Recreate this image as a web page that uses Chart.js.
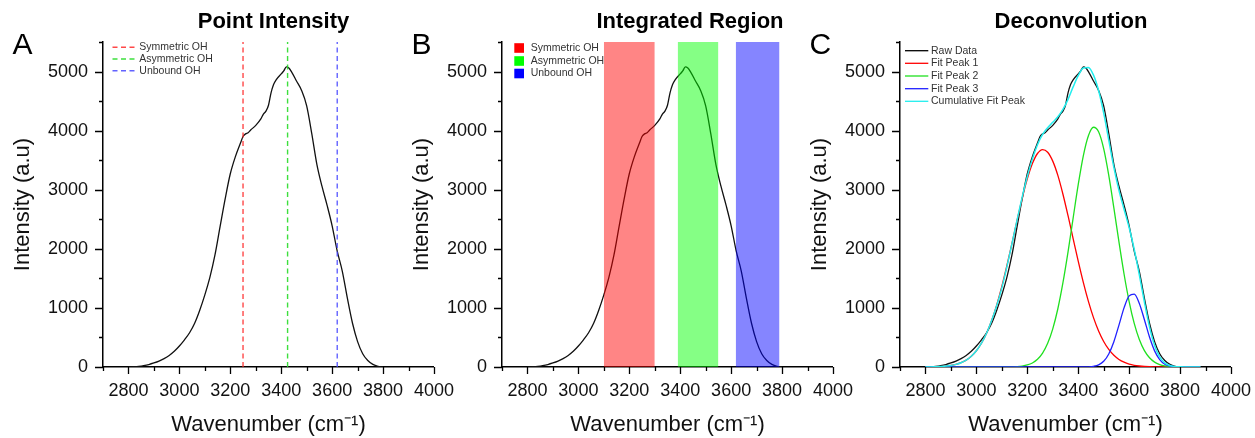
<!DOCTYPE html>
<html><head><meta charset="utf-8">
<script src="https://cdn.jsdelivr.net/npm/chart.js@4.4.1/dist/chart.umd.min.js"></script>
<style>
html,body{margin:0;padding:0;background:#fff;}
body{width:1255px;height:438px;overflow:hidden;position:relative;}
canvas{position:absolute;top:0;}
</style></head><body>
<canvas id="cA" width="460" height="438" style="left:0px"></canvas>
<canvas id="cB" width="460" height="438" style="left:399px"></canvas>
<canvas id="cC" width="460" height="438" style="left:797px"></canvas>
<script>
// ---------- data ----------
const wavenumber = [2800,2820,2840,2860,2880,2900,2920,2940,2960,2980,3000,3020,3040,3060,3080,3100,3120,3140,3160,3180,3200,3220,3240,3250,3260,3270,3280,3300,3320,3330,3340,3350,3360,3370,3380,3400,3410,3420,3430,3440,3460,3480,3500,3520,3540,3560,3580,3600,3620,3640,3660,3680,3700,3720,3740,3760,3780,3800];
const rawIntensity = [0,5,12,24,42,68,100,142,195,265,355,460,580,740,960,1220,1520,1900,2380,2850,3270,3560,3790,3900,3945,3965,4010,4090,4200,4280,4330,4430,4640,4780,4860,4960,5010,5080,5060,5000,4840,4680,4420,3950,3430,3060,2740,2390,1960,1620,1160,740,430,225,110,45,12,0];

const fitWavenumber = [2800,2820,2840,2860,2880,2900,2920,2940,2960,2980,3000,3020,3040,3060,3080,3100,3120,3140,3160,3180,3200,3220,3240,3260,3280,3300,3320,3340,3360,3380,3400,3420,3440,3460,3480,3500,3520,3540,3560,3580,3600,3620,3640,3660,3680,3700,3720,3740,3760,3780,3800,3820,3840,3860,3880];
const fitPeak1 = [1,2,4,8,15,26,44,73,117,182,275,402,571,786,1052,1364,1718,2097,2484,2855,3183,3442,3613,3680,3635,3484,3242,2924,2560,2174,1791,1432,1111,836,610,432,297,198,128,81,49,29,17,9,5,3,2,1,0,0,0,0,0,0,0];
const fitPeak2 = [0,0,0,0,0,0,0,0,0,0,0,0,0,0,0,0,1,3,7,16,34,68,130,235,400,646,986,1426,1948,2521,3085,3573,3914,4057,3980,3695,3242,2693,2117,1574,1108,737,464,277,156,83,42,20,9,4,2,1,0,0,0];
const fitPeak3 = [0,0,0,0,0,0,0,0,0,0,0,0,0,0,0,0,0,0,0,0,0,0,0,0,0,0,0,0,0,0,0,1,3,12,36,97,221,428,709,1000,1203,1232,1075,800,507,273,126,49,17,5,1,0,0,0,0];
const cumulativeFit = [1,2,4,8,15,26,44,73,117,182,275,402,571,786,1040,1340,1700,2090,2490,2875,3225,3520,3760,3935,4050,4140,4235,4360,4530,4740,4930,5060,5070,4940,4680,4300,3840,3380,2990,2670,2360,1990,1560,1100,680,365,172,71,26,9,3,1,0,0,0];

const bandNames = ["Symmetric OH","Asymmetric OH","Unbound OH"];
const pointPositions = [3250,3425,3620];
const regionStart = [3100,3390,3618];
const regionEnd = [3300,3550,3790];
const fitNames = ["Raw Data","Fit Peak 1","Fit Peak 2","Fit Peak 3","Cumulative Fit Peak"];

const xMin = 2700, xMax = 4000, xMajor = 200, xMinor = 100;
const yMin = 0, yMax = 5500, yMajor = 1000, yMinor = 500;

const panelTitles = ["Point Intensity","Integrated Region","Deconvolution"];
const panelLetters = ["A","B","C"];

// ---------- styles ----------
const FONT = "'Liberation Sans', Arial, Helvetica, sans-serif";
const lineColors = ['rgba(255,40,40,0.85)','rgba(40,220,40,0.9)','rgba(70,70,255,0.85)'];
const bandFill = ['rgba(255,0,0,0.48)','rgba(0,255,0,0.48)','rgba(0,0,255,0.48)'];
const bandSwatch = ['#ff0000','#00ff00','#0000ff'];
const fitColors = ['#000000','#ff0000','#1fe01f','#2020ff','#22eeee'];

function pts(xs, ys){ return xs.map((x,i)=>({x:x,y:ys[i]})); }

function decorPlugin(idx, legendDraw){
  return {
    id:'decor'+idx,
    afterDraw(chart){
      const ctx = chart.ctx, xs = chart.scales.x, ys = chart.scales.y, ca = chart.chartArea;
      ctx.save();
      ctx.strokeStyle = '#000'; ctx.lineWidth = 1.3;
      ctx.beginPath();
      for (let v = xMin; v <= xMax + 0.1; v += xMinor) {
        const px = Math.round(xs.getPixelForValue(v)) + 0.5;
        const len = (v % xMajor === 0) ? 7 : 4;
        ctx.moveTo(px, ca.bottom); ctx.lineTo(px, ca.bottom + len);
      }
      for (let v = yMin; v <= yMax + 0.1; v += yMinor) {
        const py = Math.round(ys.getPixelForValue(v)) + 0.5;
        const len = (v % yMajor === 0) ? 8 : 4;
        ctx.moveTo(ca.left, py); ctx.lineTo(ca.left - len, py);
      }
      ctx.stroke();
      ctx.fillStyle = '#000';
      ctx.font = 'bold 22px ' + FONT;
      ctx.textAlign = 'center'; ctx.textBaseline = 'alphabetic';
      const tx = [273.5, 291, 274][idx];
      ctx.fillText(panelTitles[idx], tx, 28);
      ctx.font = '30px ' + FONT;
      ctx.textAlign = 'left';
      ctx.fillText(panelLetters[idx], 12.5, 53.5);
      legendDraw(ctx, ca);
      ctx.restore();
    }
  };
}

function legendA(ctx, ca){
  const rows = [47.3, 59, 70.7];
  ctx.font = '10.5px ' + FONT; ctx.textBaseline = 'middle'; ctx.textAlign = 'left';
  bandNames.forEach((n,i)=>{
    ctx.strokeStyle = lineColors[i]; ctx.lineWidth = 1.4; ctx.setLineDash([5,3.5]);
    ctx.beginPath(); ctx.moveTo(112.5, rows[i]); ctx.lineTo(136.5, rows[i]); ctx.stroke();
    ctx.setLineDash([]);
    ctx.fillStyle = '#333'; ctx.fillText(n, 139.3, rows[i]);
  });
}
function legendB(ctx, ca){
  const rows = [48, 61, 73.5];
  ctx.font = '10.5px ' + FONT; ctx.textBaseline = 'middle'; ctx.textAlign = 'left';
  bandNames.forEach((n,i)=>{
    ctx.fillStyle = bandSwatch[i];
    ctx.fillRect(115.3, rows[i]-4.8, 9.7, 9.6);
    ctx.fillStyle = '#333'; ctx.fillText(n, 131.7, rows[i]);
  });
}
function legendC(ctx, ca){
  const rows = [50.7, 63.3, 76, 88.7, 101.3];
  ctx.font = '10.5px ' + FONT; ctx.textBaseline = 'middle'; ctx.textAlign = 'left';
  fitNames.forEach((n,i)=>{
    ctx.strokeStyle = fitColors[i]; ctx.lineWidth = 1.3;
    ctx.beginPath(); ctx.moveTo(108, rows[i]); ctx.lineTo(131.3, rows[i]); ctx.stroke();
    ctx.fillStyle = '#333'; ctx.fillText(n, 134, rows[i]);
  });
}

function baseOptions(){
  return {
    responsive:false, animation:false, devicePixelRatio:1,
    layout:{padding:{left:0, right:26, top:42, bottom:0}},
    plugins:{legend:{display:false}, tooltip:{enabled:false}, title:{display:false}},
    elements:{point:{radius:0}},
    scales:{
      x:{type:'linear', min:xMin, max:xMax,
        border:{display:true, color:'#000', width:1.5},
        grid:{display:true, drawOnChartArea:false, drawTicks:true, tickLength:7, tickColor:'rgba(0,0,0,0)'},
        ticks:{stepSize:xMinor, autoSkip:false, maxRotation:0, color:'#111', padding:6,
          font:{family:FONT, size:18},
          callback:(v)=> (v % xMajor === 0 ? String(v) : '')},
        title:{display:true, text:'Wavenumber (cm\u207B\u00B9)', color:'#111',
          font:{family:FONT, size:22}, padding:{top:0,bottom:0}},
        afterFit:(s)=>{ s.height = 71; }
      },
      y:{type:'linear', min:yMin, max:yMax,
        border:{display:true, color:'#000', width:1.5},
        grid:{display:true, drawOnChartArea:false, drawTicks:true, tickLength:8, tickColor:'rgba(0,0,0,0)'},
        ticks:{stepSize:yMinor, autoSkip:false, color:'#111', padding:7,
          font:{family:FONT, size:18},
          callback:(v)=> (v % yMajor === 0 ? String(v) : '')},
        title:{display:true, text:'Intensity (a.u)', color:'#111',
          font:{family:FONT, size:22}, padding:{top:10,bottom:0}},
        afterFit:(s)=>{ s.width = 103; }
      }
    }
  };
}

const rawLine = (order)=>({
  data: pts(wavenumber, rawIntensity), borderColor:'#111', borderWidth:1.3,
  pointRadius:0, cubicInterpolationMode:'monotone', fill:false, order:order
});

// ---------- Panel A ----------
const dsA = [rawLine(5)];
pointPositions.forEach((p,i)=>{
  dsA.push({data:[{x:p,y:yMin},{x:p,y:yMax}], borderColor:lineColors[i], borderWidth:1.4,
    borderDash:[5,3.5], pointRadius:0, fill:false, order:i});
});
new Chart(document.getElementById('cA'), {type:'line', data:{datasets:dsA}, options:baseOptions(), plugins:[decorPlugin(0, legendA)]});

// ---------- Panel B ----------
const dsB = [rawLine(5)];
regionStart.forEach((s,i)=>{
  dsB.push({data:[{x:s,y:yMax},{x:regionEnd[i],y:yMax}], borderColor:'rgba(0,0,0,0)', borderWidth:0,
    backgroundColor:bandFill[i], pointRadius:0, fill:'origin', order:i});
});
new Chart(document.getElementById('cB'), {type:'line', data:{datasets:dsB}, options:baseOptions(), plugins:[decorPlugin(1, legendB)]});

// ---------- Panel C ----------
const fitSeries = [fitPeak1, fitPeak2, fitPeak3];
const dsC = [rawLine(10)];
fitSeries.forEach((f,i)=>{
  dsC.push({data:pts(fitWavenumber, f), borderColor:fitColors[i+1], borderWidth:1.3,
    pointRadius:0, cubicInterpolationMode:'monotone', fill:false, order:5-i});
});
dsC.push({data:pts(fitWavenumber, cumulativeFit), borderColor:fitColors[4], borderWidth:1.5,
  pointRadius:0, cubicInterpolationMode:'monotone', fill:false, order:0});
new Chart(document.getElementById('cC'), {type:'line', data:{datasets:dsC}, options:baseOptions(), plugins:[decorPlugin(2, legendC)]});
</script>
</body></html>
